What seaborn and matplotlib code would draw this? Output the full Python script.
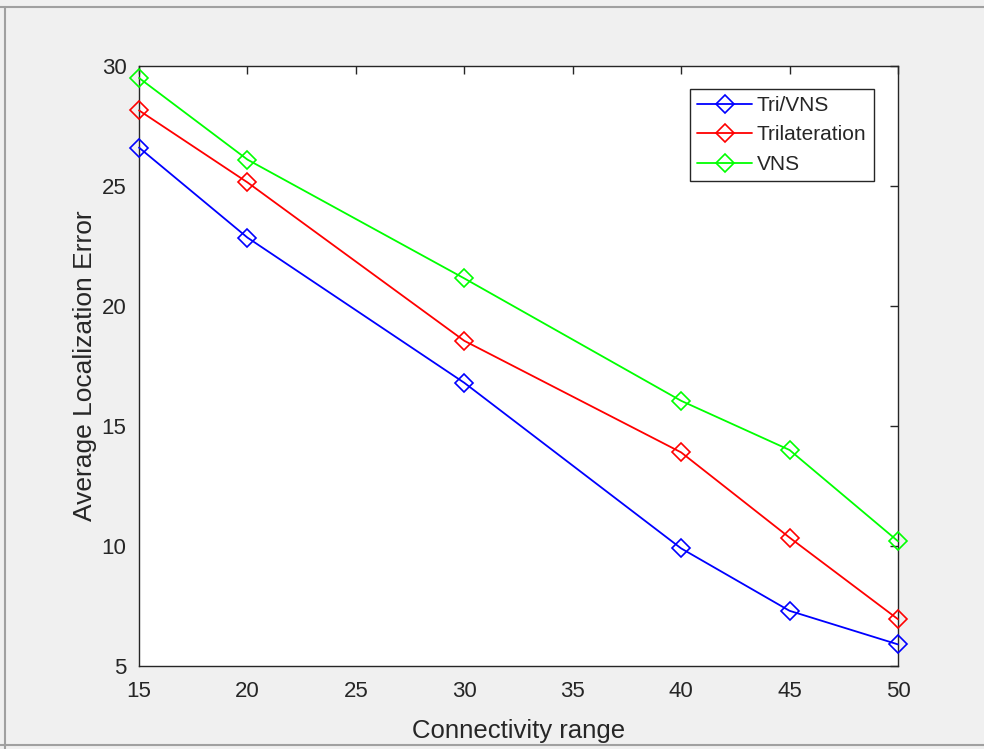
import pandas as pd
import matplotlib.pyplot as plt
from matplotlib.lines import Line2D
import seaborn as sns

# connectivity range values (x axis)
alcance = [15, 20, 30, 40, 45, 50]

# average localization error for each method
erro_tri_vns = [26.6, 22.85, 16.8, 9.9, 7.3, 5.9]
erro_trilateracao = [28.15, 25.15, 18.55, 13.9, 10.35, 6.95]
erro_vns = [29.5, 26.1, 21.15, 16.05, 14.0, 10.2]

metodos = ["Tri/VNS", "Trilateration", "VNS"]
cores = ["#0000ff", "#ff0000", "#00ff00"]

x_ticks = [15, 20, 25, 30, 35, 40, 45, 50]
y_ticks = [5, 10, 15, 20, 25, 30]


def montar_df() -> pd.DataFrame:
    series = [erro_tri_vns, erro_trilateracao, erro_vns]
    registros = []
    for nome, valores in zip(metodos, series):
        for x, y in zip(alcance, valores):
            registros.append({"alcance": x, "erro": y, "metodo": nome})
    return pd.DataFrame(registros)


def main() -> None:
    sns.set_style("white")
    plt.rcParams["font.family"] = ["Liberation Sans", "DejaVu Sans"]

    df = montar_df()

    fig = plt.figure(figsize=(9.84, 7.49), dpi=100, facecolor="#f0f0f0")
    ax = fig.add_axes([0.1413, 0.1108, 0.7713, 0.8011])
    ax.set_facecolor("white")

    for nome, cor in zip(metodos, cores):
        sns.lineplot(data=df[df["metodo"] == nome], x="alcance", y="erro",
                     color=cor, marker="D", markersize=9.5, markerfacecolor="none",
                     markeredgecolor=cor, markeredgewidth=1.2, linewidth=1.3,
                     label=nome, ax=ax, clip_on=False, zorder=3)

    ax.set_xlim(15, 50)
    ax.set_ylim(5, 30)
    ax.set_xticks(x_ticks)
    ax.set_yticks(y_ticks)

    cor_eixo = "#262626"
    for lado in ["top", "bottom", "left", "right"]:
        ax.spines[lado].set_visible(True)
        ax.spines[lado].set_color(cor_eixo)
        ax.spines[lado].set_linewidth(1.0)
        ax.spines[lado].set_zorder(2)
    ax.tick_params(direction="in", length=6, width=1.0, color=cor_eixo,
                   top=True, right=True, labelsize=16, labelcolor=cor_eixo)
    ax.tick_params(axis="x", pad=11)
    ax.tick_params(axis="y", pad=9)

    ax.set_xlabel("Connectivity range", fontsize=18.5, color=cor_eixo, labelpad=12)
    ax.set_ylabel("Average Localization Error", fontsize=19, color=cor_eixo, labelpad=3.5)

    leg = ax.legend(loc="upper right", bbox_to_anchor=(0.968, 0.962), borderaxespad=0,
                    fontsize=15, frameon=True, fancybox=False, handlelength=2.6,
                    handletextpad=0.25, labelspacing=0.5, borderpad=0.35)
    leg.get_frame().set_edgecolor(cor_eixo)
    leg.get_frame().set_linewidth(1.0)
    leg.get_frame().set_facecolor("white")
    leg.get_frame().set_alpha(1)
    leg.set_zorder(5)

    # moldura da janela
    fig.add_artist(Line2D([0, 1], [0.9900, 0.9900], color="#a0a0a0", lw=1.5,
                          transform=fig.transFigure))
    fig.add_artist(Line2D([0.0055, 0.0055], [0, 0.9900], color="#a0a0a0", lw=1.5,
                          transform=fig.transFigure))
    fig.add_artist(Line2D([0, 1], [0.005, 0.005], color="#a0a0a0", lw=1.5,
                          transform=fig.transFigure))

    fig.savefig("out.png", dpi=100, facecolor=fig.get_facecolor())


if __name__ == "__main__":
    main()
